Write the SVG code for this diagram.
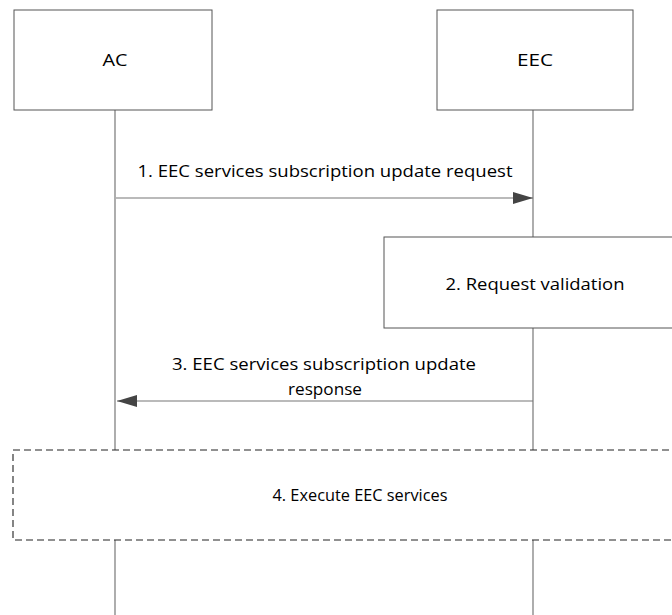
<svg xmlns="http://www.w3.org/2000/svg" width="672" height="615" viewBox="0 0 672 615">
<defs>
<style>
.box{fill:#fff;stroke:#555;stroke-width:1}
.life{stroke:#777;stroke-width:1.2;fill:none}
.msg{stroke:#777;stroke-width:1.2;fill:none}
.dash{fill:#fff;stroke:#222;stroke-width:1.1;stroke-dasharray:7,4}
text{font-family:"Open Sans","Liberation Sans",sans-serif;font-size:17px;fill:#000;text-anchor:middle}
</style>
<marker id="ah" viewBox="0 0 20 12" refX="20" refY="6" markerWidth="20" markerHeight="12" markerUnits="userSpaceOnUse" orient="auto">
<path d="M0,0 L20,6 L0,12 Z" fill="#444"/>
</marker>
</defs>
<g id="lifelines">
<line class="life" x1="115" y1="110" x2="115" y2="450"/>
<line class="life" x1="533" y1="110" x2="533" y2="237"/>
<line class="life" x1="533" y1="328" x2="533" y2="450"/>
<line class="life" x1="115" y1="540" x2="115" y2="615"/>
<line class="life" x1="533" y1="540" x2="533" y2="615"/>
</g>
<g id="AC">
<rect class="box" x="14" y="10" width="198" height="100"/>
<text x="115" y="66" textLength="25" lengthAdjust="spacingAndGlyphs">AC</text>
</g>
<g id="EEC">
<rect class="box" x="437" y="10" width="196" height="100"/>
<text x="535" y="66" textLength="36" lengthAdjust="spacingAndGlyphs">EEC</text>
</g>
<g id="step2">
<rect class="box" x="384" y="237" width="300" height="91"/>
<text x="535" y="290" textLength="179" lengthAdjust="spacingAndGlyphs">2. Request validation</text>
</g>
<g id="step4">
<rect class="dash" x="13" y="450" width="680" height="90"/>
<text x="360" y="501" textLength="175" lengthAdjust="spacingAndGlyphs">4. Execute EEC services</text>
</g>
<g id="connectors">
<line class="msg" x1="116" y1="198" x2="533" y2="198" marker-end="url(#ah)"/>
<text x="325" y="177" textLength="375" lengthAdjust="spacingAndGlyphs">1. EEC services subscription update request</text>
<line class="msg" x1="533" y1="401" x2="117" y2="401" marker-end="url(#ah)"/>
<text x="324" y="370" textLength="304" lengthAdjust="spacingAndGlyphs">3. EEC services subscription update</text>
<text x="325" y="395" textLength="74" lengthAdjust="spacingAndGlyphs">response</text>
</g>
</svg>
